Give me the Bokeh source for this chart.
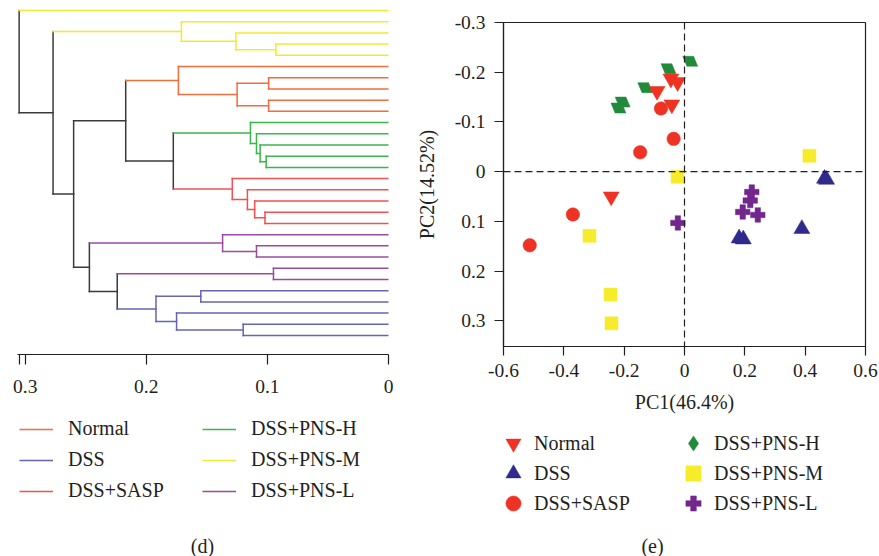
import math
from bokeh.plotting import figure
from bokeh.models import Range1d, FixedTicker, Span, Legend, LegendItem, Label, ColumnDataSource
from bokeh.layouts import row, column
from bokeh.embed import file_html
from bokeh.resources import INLINE

FONT = "Liberation Serif"
INK = "#231f20"

GROUPS = ["Normal", "DSS", "DSS+SASP", "DSS+PNS-H", "DSS+PNS-M", "DSS+PNS-L"]
TREE_COLORS = ["#f26d3d", "#6565b2", "#ef5252", "#3cb54a", "#f2ea32", "#9a4b9f"]
LINK_COLOR = "#3a3a3a"

# dendrogram leaves in display order (top to bottom)
LEAF_GROUPS = (["DSS+PNS-M"] * 5 + ["Normal"] * 5 + ["DSS+PNS-H"] * 5 +
               ["DSS+SASP"] * 5 + ["DSS+PNS-L"] * 5 + ["DSS"] * 5)
# merges (node id = 30 + index), heights in distance units
MERGE_A = [3, 2, 1, 6, 8, 33, 5, 13, 12, 11, 10, 18, 17, 16, 15, 40, 36,
           21, 20, 23, 25, 28, 27, 50, 49, 48, 46, 32, 0]
MERGE_B = [4, 30, 31, 7, 9, 34, 35, 14, 37, 38, 39, 19, 41, 42, 43, 44, 45,
           22, 47, 24, 26, 29, 51, 52, 53, 54, 55, 56, 57]
MERGE_H = [0.093, 0.126, 0.171, 0.099, 0.099, 0.125, 0.1735, 0.101, 0.106,
           0.109, 0.114, 0.102, 0.1105, 0.1165, 0.129, 0.1777, 0.217, 0.109,
           0.137, 0.095, 0.155, 0.120, 0.175, 0.192, 0.224, 0.247, 0.260,
           0.277, 0.305]
TREE_TICKS = [0.305, 0.3, 0.2, 0.1, 0]

# PCA scores
PCA_COLORS = ["#ee3224", "#2f2a8c", "#ee3224", "#218a3b", "#f6ec2b", "#72278e"]
PCA_MARKERS = ["inverted_triangle", "triangle", "circle", "diamond", "square", "plus"]
PC1 = {
    "Normal":    [-0.045, -0.023, -0.091, -0.042, -0.243],
    "DSS":       [0.464, 0.471, 0.181, 0.195, 0.389],
    "DSS+SASP":  [-0.078, -0.036, -0.147, -0.370, -0.513],
    "DSS+PNS-H": [0.019, -0.053, -0.130, -0.205, -0.219],
    "DSS+PNS-M": [0.414, -0.023, -0.315, -0.245, -0.242],
    "DSS+PNS-L": [0.223, 0.218, 0.193, 0.243, -0.022],
}
PC2 = {
    "Normal":    [-0.187, -0.180, -0.162, -0.135, 0.050],
    "DSS":       [0.014, 0.016, 0.134, 0.136, 0.115],
    "DSS+SASP":  [-0.127, -0.066, -0.039, 0.086, 0.148],
    "DSS+PNS-H": [-0.222, -0.207, -0.169, -0.140, -0.128],
    "DSS+PNS-M": [-0.032, 0.010, 0.129, 0.247, 0.305],
    "DSS+PNS-L": [0.041, 0.058, 0.081, 0.087, 0.103],
}
PCA_X_TICKS = [-0.6, -0.4, -0.2, 0, 0.2, 0.4, 0.6]
PCA_Y_TICKS = [-0.3, -0.2, -0.1, 0, 0.1, 0.2, 0.3]
X_TITLE = "PC1(46.4%)"
Y_TITLE = "PC2(14.52%)"
CAPTIONS = ["(d)", "(e)"]

MARKER_SIZES = {"inverted_triangle": 16, "triangle": 16, "circle": 13.5, "diamond": 18,
                "square": 13, "plus": 14.5}
DIAMOND_ANGLE = math.atan(1.5)


def fmt(t):
    return "0" if t == 0 else f"{t:g}"


def blank_fig(width_frame, height_frame, left, top, right=0, bottom=0):
    # legend panel: its ranges lie far from the data so proxy glyphs stay hidden
    f = figure(frame_width=width_frame, frame_height=height_frame,
               x_range=Range1d(10, 11), y_range=Range1d(10, 11),
               x_axis_location=None, y_axis_location=None,
               output_backend="svg", toolbar_location=None,
               min_border_left=left, min_border_top=top,
               min_border_right=right, min_border_bottom=bottom)
    f.grid.visible = False
    f.outline_line_color = None
    f.background_fill_color = None
    f.border_fill_color = None
    return f


# ---------------- dendrogram ----------------
n_leaves = len(LEAF_GROUPS)
node_y = {i: float(i) for i in range(n_leaves)}
node_h = {i: 0.0 for i in range(n_leaves)}
node_g = {i: LEAF_GROUPS[i] for i in range(n_leaves)}
segs = {g: dict(x0=[], y0=[], x1=[], y1=[]) for g in GROUPS + ["link"]}


def add(g, x0, y0, x1, y1):
    s = segs[g]
    s["x0"].append(x0); s["y0"].append(y0); s["x1"].append(x1); s["y1"].append(y1)


for k, (a, b, h) in enumerate(zip(MERGE_A, MERGE_B, MERGE_H)):
    nid = n_leaves + k
    node_y[nid] = (node_y[a] + node_y[b]) / 2
    node_h[nid] = h
    ga, gb = node_g[a], node_g[b]
    node_g[nid] = ga if ga == gb else "link"
    add(node_g[nid], h, node_y[a], h, node_y[b])
    add(ga, h, node_y[a], node_h[a], node_y[a])
    add(gb, h, node_y[b], node_h[b], node_y[b])

tree = figure(frame_width=371, frame_height=346,
              x_range=Range1d(0.30636, 0), y_range=Range1d(30.695, -0.1785),
              y_axis_location=None, output_backend="svg", toolbar_location=None,
              min_border_left=17, min_border_right=22, min_border_top=8,
              min_border_bottom=51)
tree.grid.visible = False
tree.outline_line_color = None
tree.background_fill_color = None
tree.border_fill_color = None

tree.segment(x0="x0", y0="y0", x1="x1", y1="y1", source=ColumnDataSource(segs["link"]),
             line_color=LINK_COLOR, line_width=1.5, line_cap="square")
tree_sources = {}
for g, c in zip(GROUPS, TREE_COLORS):
    tree_sources[g] = ColumnDataSource(segs[g])
    tree.segment(x0="x0", y0="y0", x1="x1", y1="y1", source=tree_sources[g],
                 line_color=c, line_width=1.5, line_cap="square")

ax = tree.xaxis[0]
ax.ticker = FixedTicker(ticks=TREE_TICKS)
ax.major_label_overrides = {t: ("" if t == TREE_TICKS[0] else fmt(t)) for t in TREE_TICKS}
ax.minor_tick_line_color = None
ax.major_tick_in = 0
ax.major_tick_out = 10
ax.axis_line_color = INK
ax.major_tick_line_color = INK
ax.axis_line_width = 1.2
ax.major_tick_line_width = 1.2
ax.major_label_text_font = FONT
ax.major_label_text_font_size = "19.5px"
ax.major_label_text_color = INK
ax.major_label_standoff = 15

# legend + caption panel under the dendrogram (same horizontal borders as the tree)
tleg = blank_fig(371, 141, left=17, top=10, right=22)
titems = []
for g, c in zip(GROUPS, TREE_COLORS):
    r = tleg.segment(x0="x0", y0="y0", x1="x1", y1="y1", source=tree_sources[g],
                     line_color=c, line_width=1.5)
    titems.append(LegendItem(label=g, renderers=[r]))
tleg.add_layout(Legend(items=titems, ncols=2, location="top_left", orientation="vertical",
                       glyph_width=34, glyph_height=20, label_standoff=15, label_width=126,
                       label_height=20, spacing=8, padding=0, margin=2,
                       border_line_color=None, background_fill_alpha=0,
                       label_text_font=FONT, label_text_font_size="20px",
                       label_text_color=INK), "center")
tleg.add_layout(Label(x=185, y=11, x_units="screen", y_units="screen", text=CAPTIONS[0],
                      text_align="center", text_baseline="middle", text_font=FONT,
                      text_font_size="20px", text_color=INK))

# ---------------- PCA ----------------
pca = figure(frame_width=362, frame_height=324,
             x_range=Range1d(-0.6, 0.6), y_range=Range1d(0.3515, -0.3),
             output_backend="svg", toolbar_location=None,
             min_border_left=93, min_border_right=13, min_border_top=22,
             min_border_bottom=76)
pca.grid.visible = False
pca.outline_line_color = INK
pca.outline_line_width = 1.2
pca.background_fill_color = None
pca.border_fill_color = None

pca.add_layout(Span(location=0, dimension="height", line_color=INK, line_width=1.2, line_dash="7 4"))
pca.add_layout(Span(location=0, dimension="width", line_color=INK, line_width=1.2, line_dash="7 4"))

draw_order = ["DSS+PNS-H", "DSS+PNS-M", "DSS+PNS-L", "DSS", "DSS+SASP", "Normal"]
pca_sources = {}
for g in draw_order:
    i = GROUPS.index(g)
    m = PCA_MARKERS[i]
    pca_sources[g] = ColumnDataSource(dict(x=PC1[g], y=PC2[g]))
    pca.scatter("x", "y", source=pca_sources[g], marker=m, size=MARKER_SIZES[m],
                fill_color=PCA_COLORS[i], line_color=PCA_COLORS[i], line_width=0.5,
                angle=(DIAMOND_ANGLE if m == "diamond" else 0.0))

for axis, ticks, title in ((pca.xaxis[0], PCA_X_TICKS, X_TITLE), (pca.yaxis[0], PCA_Y_TICKS, Y_TITLE)):
    axis.ticker = FixedTicker(ticks=ticks)
    axis.major_label_overrides = {t: fmt(t) for t in ticks}
    axis.minor_tick_line_color = None
    axis.major_tick_in = 0
    axis.major_tick_out = 9
    axis.axis_line_color = INK
    axis.major_tick_line_color = INK
    axis.axis_line_width = 1.2
    axis.major_tick_line_width = 1.2
    axis.major_label_text_font = FONT
    axis.major_label_text_font_size = "19.5px"
    axis.major_label_text_color = INK
    axis.axis_label = title
    axis.axis_label_text_font = FONT
    axis.axis_label_text_font_size = "20px"
    axis.axis_label_text_font_style = "normal"
    axis.axis_label_text_color = INK
pca.xaxis[0].major_label_standoff = 8
pca.xaxis[0].axis_label_standoff = 11
pca.yaxis[0].major_label_standoff = 9
pca.yaxis[0].axis_label_standoff = 14

# legend + caption panel under the PCA plot (same horizontal borders as the PCA)
pleg = blank_fig(362, 134, left=93, top=0, right=13)
prend = {}
for i, g in enumerate(GROUPS):
    m = PCA_MARKERS[i]
    prend[g] = pleg.scatter("x", "y", source=pca_sources[g], marker=m,
                            fill_color=PCA_COLORS[i], line_color=PCA_COLORS[i], line_width=0.5)
# one legend per row: (left column, right column); y is the legend's bottom above frame bottom
rows_pairs = [(GROUPS[k], GROUPS[k + 3]) for k in range(3)]
row_bottoms = [94, 64, 34]
for (ga, gb), yb in zip(rows_pairs, row_bottoms):
    pleg.add_layout(Legend(items=[LegendItem(label=ga, renderers=[prend[ga]]),
                                  LegendItem(label=gb, renderers=[prend[gb]])],
                           location=(-9, yb), orientation="horizontal",
                           glyph_width=38, glyph_height=38, label_standoff=2, label_width=140,
                           label_height=20, spacing=0, padding=0, margin=0,
                           border_line_color=None, background_fill_alpha=0,
                           label_text_font=FONT, label_text_font_size="20px",
                           label_text_color=INK), "center")
pleg.add_layout(Label(x=149, y=11, x_units="screen", y_units="screen", text=CAPTIONS[1],
                      text_align="center", text_baseline="middle", text_font=FONT,
                      text_font_size="20px", text_color=INK))

layout = row(column(tree, tleg), column(pca, pleg))
open("out.html", "w").write(file_html(layout, INLINE))
